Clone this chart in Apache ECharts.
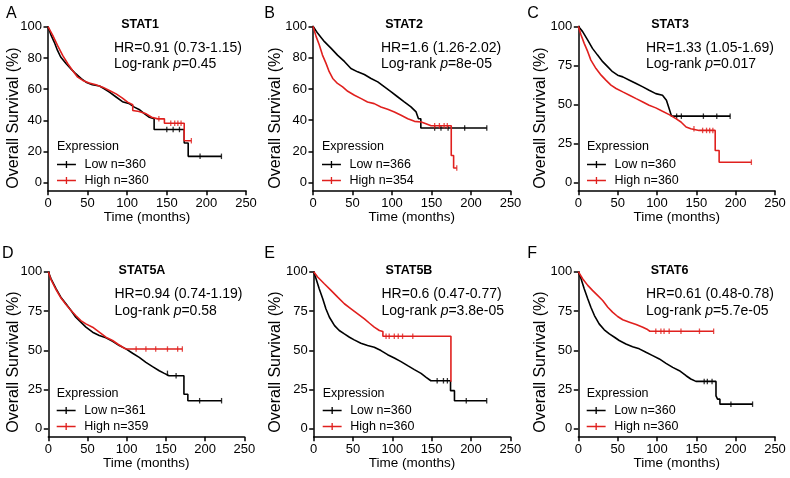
<!DOCTYPE html>
<html><head><meta charset="utf-8">
<script src="https://cdn.jsdelivr.net/npm/echarts@6/dist/echarts.min.js"></script>
<style>html,body{margin:0;padding:0;background:#fff}#c{width:790px;height:478px}</style>
</head><body><div id="c"></div>
<script>
// ---------- data (months, survival %) ----------
const xTicks = [0, 50, 100, 150, 200, 250];
const yTicks20 = [0, 20, 40, 60, 80, 100];
const yTicks25 = [0, 25, 50, 75, 100];

const stat1Low = [[0,100],[4,94.4],[8,90],[12,84.8],[16,80.6],[23,76.3],[29,73],[35,69.9],[42,66.7],[48,64.5],[56,62.8],[65,62],[71,60.3],[78,58],[86,55],[94,52],[103,50.6],[109,48.5],[115,47],[122,44.2],[128,42],[134,41],[134,34.2],[172,34.2],[172,25.5],[177,25.5],[177,17],[219,17]];
const stat1High = [[0,100],[6,94.4],[12,88],[18.5,81.6],[25,76.3],[31,72],[37.5,67.7],[44,65.6],[52,63.9],[60.5,62.8],[69,61.3],[77.5,59.2],[86,57],[94,54.3],[100.5,51.7],[107,50],[107,46.4],[115,45.7],[124,44.2],[131,42],[138.5,41],[147,41],[147,38.2],[172,38.2],[172,27],[181,27]];
const stat1LowCens = [150, 158, 166, 192, 219];
const stat1HighCens = [140, 155, 160, 164, 168, 181];

const stat2Low = [[0,100],[6,95.5],[14.5,90.2],[23,85.9],[31,81.6],[40,77.4],[48,73],[56.5,70.9],[65,69.2],[73.5,66.7],[82,64.5],[90.5,61.3],[99,58.1],[107,55],[115.5,51.7],[124,48.5],[130.5,45.3],[133.5,41],[136.5,41],[136.5,35],[220,35]];
const stat2High = [[0,100],[4,93.4],[8,88],[12,81.6],[16.5,76.3],[20.5,71],[25,66.7],[31,63.5],[37.5,61.3],[44,58.5],[52.5,56],[61,53.8],[69,51.7],[77.5,50.6],[86,48.5],[94.5,47],[103,45.3],[111.5,43.2],[120,41],[128.5,39.3],[137,38.9],[143,37.8],[149.5,36.5],[175,36.5],[175,17.5],[178,17.5],[178,9.5],[182,9.5]];
const stat2LowCens = [154, 162, 171, 192, 220];
const stat2HighCens = [154, 160, 166, 170, 182];

const stat3Low = [[0,100],[5.5,96.6],[12,91.2],[18,85.9],[24.5,81.6],[31,77.4],[37.5,74.1],[43.5,71],[50,68.8],[56.5,67.7],[65,65.6],[73.5,63.5],[82,61.3],[90,59.2],[98.5,57],[107,56],[112,52.8],[115.5,47.4],[118.5,42.6],[193,42.6]];
const stat3High = [[0,100],[3.5,94.4],[7.5,89.1],[12,83.8],[16,78.4],[22.5,73],[29,68.8],[35,65.6],[41.5,62.4],[48,60.3],[56.5,58.1],[65,56],[73.5,53.8],[82,51.7],[90,49.6],[98.5,47.9],[107,45.7],[115.5,43.6],[124,41],[130.5,38.9],[137,35.7],[143,34.6],[153.5,33.5],[174,33.5],[174,20.7],[179,20.7],[179,13.2],[220,13.2]];
const stat3LowCens = [125, 131, 159, 176, 193];
const stat3HighCens = [147, 158, 163, 167, 171, 220];

const stat5aLow = [[0,100],[3.5,95.5],[10,89.1],[16,83.8],[22.5,79.6],[29,75.3],[35,71],[41.5,67.9],[48,64.7],[56.5,61.5],[65,59.4],[73.5,57.9],[82,55.7],[90.5,53],[99,50.9],[107.5,48.1],[116,45.5],[124.5,42.3],[133,39.6],[141.5,37],[148,35.3],[154,33.8],[173,33.8],[173,22],[178,22],[178,17.9],[221,17.9]];
const stat5aHigh = [[0,100],[3.5,94.9],[10,88.5],[16,83.4],[22.5,79.1],[29,75.3],[35,72.1],[41.5,68.9],[48,66.8],[56.5,64.7],[65,61.5],[73.5,58.3],[82,56.2],[88.5,54],[95,51.9],[99,50.8],[171,50.8]];
const stat5aLowCens = [152, 163, 193, 221];
const stat5aHighCens = [112, 124.5, 137, 152, 165, 171];

const stat5bLow = [[0,100],[3,95.5],[7,89.1],[11.5,82.8],[15.5,76.4],[20,71],[26.5,65.7],[32.5,62.6],[39,60.4],[45.5,58.3],[51.5,56.6],[60,54.5],[68.5,53],[77,51.9],[85.5,49.8],[94,47.2],[102.5,45.1],[111,42.8],[119.5,40.2],[128,37.7],[136.5,35.3],[143,32.8],[149,30.6],[174,30.6],[174,24.3],[179,24.3],[179,17.9],[220,17.9]];
const stat5bHigh = [[0,100],[5,96.6],[13.5,92.3],[22,88.1],[30.5,83.8],[39,79.6],[47.5,76.4],[56,73.2],[64.5,70],[71,67.2],[77,64.7],[83.5,62.6],[88,62],[88,58.9],[174.5,58.9],[174.5,30]];
const stat5bLowCens = [157, 165, 170, 194, 220];
const stat5bHighCens = [92, 96, 102.5, 107.5, 113, 126];

const stat6Low = [[0,100],[3.5,95.5],[7.5,89.1],[12,82.8],[16,77.4],[20.5,72.1],[26.5,66.8],[33,63],[39.5,60.4],[46,58.3],[52,56.2],[60.5,54],[69,52.3],[77.5,50.9],[86,48.7],[94.5,46.6],[103,44.5],[111.5,41.7],[120,39.1],[128.5,37],[137,33.8],[143,31.7],[149.5,30.2],[175,30.2],[175,21],[177,21],[177,18.9],[180,18.9],[180,15.7],[221.5,15.7]];
const stat6High = [[0,100],[5.5,95.5],[12,91.3],[18,88.1],[24.5,84.9],[31,81.7],[37.5,77.4],[43.5,74.3],[50,71.5],[56.5,69.4],[65,67.9],[73.5,66.4],[82,64.7],[88,63.2],[91,62.1],[172,62.1]];
const stat6LowCens = [160, 164, 170, 194, 221.5];
const stat6HighCens = [98.5, 105, 109, 115.5, 130.5, 154, 172];

const titles = ['STAT1', 'STAT2', 'STAT3', 'STAT5A', 'STAT5B', 'STAT6'];
const letters = ['A', 'B', 'C', 'D', 'E', 'F'];
const hrTexts = ['HR=0.91 (0.73-1.15)', 'HR=1.6 (1.26-2.02)', 'HR=1.33 (1.05-1.69)', 'HR=0.94 (0.74-1.19)', 'HR=0.6 (0.47-0.77)', 'HR=0.61 (0.48-0.78)'];
const pValues = ['0.45', '8e-05', '0.017', '0.58', '3.8e-05', '5.7e-05'];
const lowNames = ['Low n=360', 'Low n=366', 'Low n=360', 'Low n=361', 'Low n=360', 'Low n=360'];
const highNames = ['High n=360', 'High n=354', 'High n=360', 'High n=359', 'High n=360', 'High n=360'];

// ---------- layout ----------
const FONT = "'Liberation Sans', Arial, Helvetica, sans-serif";
const BLACK = '#000000', RED = '#e0201e';
const grids = [
  {left: 48,    top: 26.7,  width: 198,   height: 164},
  {left: 313,   top: 26.3,  width: 197.5, height: 164.4},
  {left: 578.3, top: 26.3,  width: 196.7, height: 164.4},
  {left: 48.3,  top: 271.7, width: 196,   height: 165},
  {left: 313.7, top: 271.7, width: 196.6, height: 165},
  {left: 578.3, top: 271.7, width: 196.7, height: 165}
];
const letterPos = [[11.3,13.3],[269.5,13.3],[533,13.3],[7.8,253.3],[269.5,253.3],[532.2,253.3]];
const titlePos = [[140,24.2],[404,24.2],[670,24.2],[142,270.2],[409,270.2],[669.5,270.2]];
const hrPos = [[114,48,64.5],[381,48,64.5],[646,48,64.5],[114.5,294,311.5],[381.5,294,311.5],[646,294,311.5]];
const legPos = [[57,146.7,158],[322,146.7,158],[587,146.7,158],[56.7,393.3,404],[322.7,393.3,404],[586.7,393.3,404]];
const yNamePos = [[14,118],[276,118],[540.5,118],[14,362],[276,362],[540.5,362]];

const curves = [
  [stat1Low, stat1High, stat1LowCens, stat1HighCens],
  [stat2Low, stat2High, stat2LowCens, stat2HighCens],
  [stat3Low, stat3High, stat3LowCens, stat3HighCens],
  [stat5aLow, stat5aHigh, stat5aLowCens, stat5aHighCens],
  [stat5bLow, stat5bHigh, stat5bLowCens, stat5bHighCens],
  [stat6Low, stat6High, stat6LowCens, stat6HighCens]
];

function survAt(curve, t) {
  let v = curve[0][1];
  for (const p of curve) { if (p[0] <= t + 1e-9) v = p[1]; else break; }
  return v;
}

const axisColor = '#000';
const option = {
  animation: false,
  backgroundColor: '#fff',
  grid: [], xAxis: [], yAxis: [], series: [], legend: [], graphic: []
};

curves.forEach((c, i) => {
  option.grid.push(Object.assign({containLabel: false}, grids[i]));
  option.xAxis.push({
    type: 'value', gridIndex: i, min: 0, max: 250, interval: 50,
    axisLine: {onZero: false, lineStyle: {color: axisColor, width: 1.5}},
    axisTick: {show: true, length: 4.5, lineStyle: {color: axisColor, width: 1.5}},
    axisLabel: {fontSize: 13, color: '#000', margin: 6, fontFamily: FONT},
    splitLine: {show: false},
    name: 'Time (months)', nameLocation: 'middle', nameGap: 15,
    nameTextStyle: {fontSize: 13.5, color: '#000', fontFamily: FONT}
  });
  const yt = i < 2 ? yTicks20 : yTicks25;
  option.yAxis.push({
    type: 'value', gridIndex: i, min: -5, max: 100,
    axisLine: {show: true, onZero: false, lineStyle: {color: axisColor, width: 1.5}},
    axisTick: {show: true, length: 4.5, customValues: yt, lineStyle: {color: axisColor, width: 1.5}},
    axisLabel: {fontSize: 13, color: '#000', margin: 6, fontFamily: FONT, customValues: yt},
    splitLine: {show: false}
  });
  const [low, high, lowC, highC] = c;
  option.series.push({
    type: 'line', name: lowNames[i], xAxisIndex: i, yAxisIndex: i, data: low,
    showSymbol: false, symbol: 'none', lineStyle: {color: BLACK, width: 1.6},
    itemStyle: {color: BLACK}, z: 3
  });
  option.series.push({
    type: 'line', name: highNames[i], xAxisIndex: i, yAxisIndex: i, data: high,
    showSymbol: false, symbol: 'none', lineStyle: {color: RED, width: 1.6},
    itemStyle: {color: RED}, z: 4
  });
  option.series.push({
    type: 'scatter', name: 'censor-low-' + i, xAxisIndex: i, yAxisIndex: i,
    data: lowC.map(t => [t, survAt(low, t)]),
    symbol: 'rect', symbolSize: [1.3, 5.5], itemStyle: {color: BLACK}, z: 3
  });
  option.series.push({
    type: 'scatter', name: 'censor-high-' + i, xAxisIndex: i, yAxisIndex: i,
    data: highC.map(t => [t, survAt(high, t)]),
    symbol: 'rect', symbolSize: [1.3, 5.5], itemStyle: {color: RED}, z: 4
  });
  option.legend.push({
    data: [lowNames[i], highNames[i]], orient: 'vertical',
    left: legPos[i][0], top: legPos[i][2], padding: 0,
    itemWidth: 20, itemHeight: 7, itemGap: 3, selectedMode: false,
    icon: 'path://M0,2.9H20V4.5H0Z M9.3,0H10.7V7.4H9.3Z',
    textStyle: {fontSize: 12.5, color: '#000', fontFamily: FONT, padding: [0, 0, 0, 3]}
  });
  option.graphic.push(
    {type: 'text', x: letterPos[i][0], y: letterPos[i][1],
     style: {text: letters[i], font: '16px ' + FONT, fill: '#000', align: 'center', verticalAlign: 'middle'}},
    {type: 'text', x: titlePos[i][0], y: titlePos[i][1],
     style: {text: titles[i], font: 'bold 12.5px ' + FONT, fill: '#000', align: 'center', verticalAlign: 'middle'}},
    {type: 'text', x: hrPos[i][0], y: hrPos[i][1],
     style: {text: hrTexts[i], font: '14px ' + FONT, fill: '#000', align: 'left', verticalAlign: 'middle'}},
    {type: 'text', x: hrPos[i][0], y: hrPos[i][2],
     style: {text: '{n|Log-rank }{i|p}{n|=' + pValues[i] + '}', font: '14px ' + FONT, fill: '#000', align: 'left', verticalAlign: 'middle',
       rich: {n: {fontSize: 14, fontFamily: FONT, fill: '#000'}, i: {fontSize: 14, fontFamily: FONT, fontStyle: 'italic', fill: '#000'}}}},
    {type: 'text', x: legPos[i][0], y: legPos[i][1],
     style: {text: 'Expression', font: '12.5px ' + FONT, fill: '#000', align: 'left', verticalAlign: 'middle'}},
    {type: 'text', x: yNamePos[i][0], y: yNamePos[i][1], rotation: Math.PI / 2,
     style: {text: 'Overall Survival (%)', font: '16px ' + FONT, fill: '#000', align: 'center', verticalAlign: 'middle'}}
  );
});

const chart = echarts.init(document.getElementById('c'), null, {renderer: 'canvas'});
chart.setOption(option);
</script>
</body></html>
